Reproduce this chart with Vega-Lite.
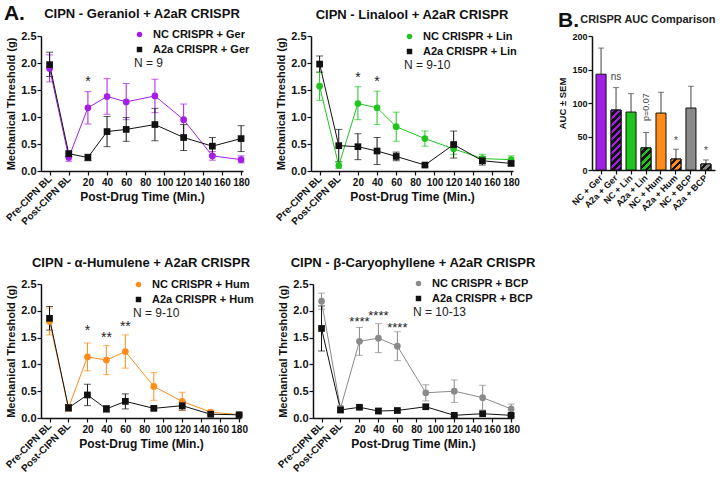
{
  "$schema": "https://vega.github.io/schema/vega-lite/v6.json",
  "padding": {"left": 3, "top": 3, "right": 2, "bottom": 2},
  "background": "white",
  "title": {"text": "A.", "anchor": "start", "fontSize": 21, "fontWeight": "bold", "dy": 16, "offset": 0, "color": "#111"},
  "config": {
    "font": "Liberation Sans",
    "view": {"stroke": null},
    "axis": {"labelFont": "Liberation Sans", "labelFontWeight": "bold", "labelFontSize": 10, "labelColor": "#111", "titleFont": "Liberation Sans", "titleFontSize": 12, "titleFontWeight": "bold", "titleColor": "#111", "domainColor": "#111", "domainWidth": 1.5, "tickColor": "#111", "tickWidth": 1.2, "tickSize": 4, "grid": false, "labelPadding": 2, "labelOverlap": false, "labelFlush": false},
    "axisY": {"labelPadding": 1, "titlePadding": 4, "labelFontSize": 11},
    "title": {"font": "Liberation Sans", "fontSize": 13, "fontWeight": "bold", "color": "#111", "offset": 8},
    "legend": {"labelFont": "Liberation Sans", "titleFont": "Liberation Sans"}
  },
  "spacing": 30,
  "resolve": {"scale": {"color": "independent", "shape": "independent"}, "legend": {"color": "independent", "shape": "independent"}},
  "vconcat": [
    {
      "spacing": 37,
      "resolve": {"scale": {"color": "independent", "shape": "independent"}, "legend": {"color": "independent", "shape": "independent"}},
      "hconcat": [
        {
          "spacing": 24,
          "resolve": {"scale": {"color": "independent", "shape": "independent"}, "legend": {"color": "independent", "shape": "independent"}},
          "hconcat": [
            {
              "width": 202, "height": 135,
              "title": "CIPN - Geraniol + A2aR CRISPR",
              "data": {"values": [
                {"t": -20, "g": "NC CRISPR + Ger", "m": 1.90, "lo": 1.65, "hi": 2.15},
                {"t": 0, "g": "NC CRISPR + Ger", "m": 0.25, "lo": 0.18, "hi": 0.33},
                {"t": 20, "g": "NC CRISPR + Ger", "m": 1.17, "lo": 0.87, "hi": 1.47},
                {"t": 40, "g": "NC CRISPR + Ger", "m": 1.38, "lo": 1.05, "hi": 1.71},
                {"t": 60, "g": "NC CRISPR + Ger", "m": 1.28, "lo": 0.95, "hi": 1.62},
                {"t": 90, "g": "NC CRISPR + Ger", "m": 1.39, "lo": 1.08, "hi": 1.70},
                {"t": 120, "g": "NC CRISPR + Ger", "m": 0.95, "lo": 0.66, "hi": 1.24},
                {"t": 150, "g": "NC CRISPR + Ger", "m": 0.28, "lo": 0.20, "hi": 0.36},
                {"t": 180, "g": "NC CRISPR + Ger", "m": 0.21, "lo": 0.15, "hi": 0.28},
                {"t": -20, "g": "A2a CRISPR + Ger", "m": 1.97, "lo": 1.75, "hi": 2.20},
                {"t": 0, "g": "A2a CRISPR + Ger", "m": 0.32, "lo": 0.27, "hi": 0.37},
                {"t": 20, "g": "A2a CRISPR + Ger", "m": 0.25, "lo": 0.19, "hi": 0.31},
                {"t": 40, "g": "A2a CRISPR + Ger", "m": 0.73, "lo": 0.45, "hi": 1.01},
                {"t": 60, "g": "A2a CRISPR + Ger", "m": 0.77, "lo": 0.55, "hi": 0.99},
                {"t": 90, "g": "A2a CRISPR + Ger", "m": 0.86, "lo": 0.56, "hi": 1.16},
                {"t": 120, "g": "A2a CRISPR + Ger", "m": 0.62, "lo": 0.38, "hi": 0.86},
                {"t": 150, "g": "A2a CRISPR + Ger", "m": 0.46, "lo": 0.30, "hi": 0.62},
                {"t": 180, "g": "A2a CRISPR + Ger", "m": 0.60, "lo": 0.36, "hi": 0.84}
              ]},
              "resolve": {"axis": {"x": "independent"}},
              "layer": [
                {"mark": {"type": "errorbar", "ticks": {"size": 7}, "thickness": 1},
                 "encoding": {
                   "x": {"field": "t", "type": "quantitative", "scale": {"domain": [-29, 182], "nice": false, "zero": false},
                         "axis": {"orient": "bottom", "values": [20, 40, 60, 80, 100, 120, 140, 160, 180], "labelAngle": 0, "title": "Post-Drug Time (Min.)"}},
                   "y": {"field": "lo", "type": "quantitative", "scale": {"domain": [0, 2.5], "nice": false}, "axis": {"values": [0, 0.5, 1, 1.5, 2, 2.5], "format": ".1f", "title": "Mechanical Threshold (g)", "titleFontSize": 11}},
                   "y2": {"field": "hi"},
                   "color": {"condition": {"test": "datum.g === 'NC CRISPR + Ger'", "value": "#a31ee6"}, "value": "#111111"}
                 }},
                {"mark": {"type": "line", "strokeWidth": 1},
                 "encoding": {
                   "x": {"field": "t", "type": "quantitative", "axis": {"orient": "bottom", "values": [-20, 0], "labelExpr": "datum.value < 0 ? 'Pre-CIPN BL' : 'Post-CIPN BL'", "labelAngle": -45, "labelAlign": "right", "labelBaseline": "middle", "labelFontSize": 10, "domain": false, "title": null}},
                   "y": {"field": "m", "type": "quantitative", "axis": {"values": [0, 0.5, 1, 1.5, 2, 2.5], "format": ".1f", "title": "Mechanical Threshold (g)", "titleFontSize": 11}},
                   "detail": {"field": "g"},
                   "color": {"condition": {"test": "datum.g === 'NC CRISPR + Ger'", "value": "#a31ee6"}, "value": "#111111"}
                 }},
                {"mark": {"type": "point", "filled": true, "opacity": 1, "size": 45},
                 "encoding": {
                   "x": {"field": "t", "type": "quantitative", "axis": null},
                   "y": {"field": "m", "type": "quantitative", "axis": {"values": [0, 0.5, 1, 1.5, 2, 2.5], "format": ".1f", "title": "Mechanical Threshold (g)", "titleFontSize": 11}},
                   "color": {"field": "g", "type": "nominal", "scale": {"domain": ["NC CRISPR + Ger", "A2a CRISPR + Ger"], "range": ["#a31ee6", "#111111"]}, "legend": {"title": "N = 9", "orient": "none", "legendX": 93, "legendY": -7, "titleOrient": "bottom", "titleAnchor": "start", "titleFontWeight": "normal", "titleFontSize": 12, "titleColor": "#222", "labelFontWeight": "bold", "labelFontSize": 11, "labelColor": "#111", "symbolSize": 30, "labelOffset": 8, "rowPadding": 3, "titlePadding": 3, "padding": 0}},
                   "shape": {"field": "g", "type": "nominal", "scale": {"domain": ["NC CRISPR + Ger", "A2a CRISPR + Ger"], "range": ["circle", "square"]}, "legend": {"title": "N = 9", "orient": "none", "legendX": 93, "legendY": -7, "titleOrient": "bottom", "titleAnchor": "start", "titleFontWeight": "normal", "titleFontSize": 12, "titleColor": "#222", "labelFontWeight": "bold", "labelFontSize": 11, "labelColor": "#111", "symbolSize": 30, "labelOffset": 8, "rowPadding": 3, "titlePadding": 3, "padding": 0}}
                 }},
                {"data": {"values": [{"t": 20, "y": 1.70, "s": "*"}]},
                 "mark": {"type": "text", "fontSize": 14, "baseline": "middle", "dy": 3, "color": "#222"},
                 "encoding": {"x": {"field": "t", "type": "quantitative", "axis": null}, "y": {"field": "y", "type": "quantitative", "axis": {"values": [0, 0.5, 1, 1.5, 2, 2.5], "format": ".1f", "title": "Mechanical Threshold (g)", "titleFontSize": 11}}, "text": {"field": "s"}}}
              ]
            },
            {
              "width": 202, "height": 135,
              "title": "CIPN - Linalool + A2aR CRISPR",
              "data": {"values": [
                {"t": -20, "g": "NC CRISPR + Lin", "m": 1.57, "lo": 1.31, "hi": 1.83},
                {"t": 0, "g": "NC CRISPR + Lin", "m": 0.10, "lo": 0.05, "hi": 0.17},
                {"t": 20, "g": "NC CRISPR + Lin", "m": 1.25, "lo": 0.95, "hi": 1.56},
                {"t": 40, "g": "NC CRISPR + Lin", "m": 1.17, "lo": 0.86, "hi": 1.48},
                {"t": 60, "g": "NC CRISPR + Lin", "m": 0.82, "lo": 0.55, "hi": 1.09},
                {"t": 90, "g": "NC CRISPR + Lin", "m": 0.60, "lo": 0.46, "hi": 0.74},
                {"t": 120, "g": "NC CRISPR + Lin", "m": 0.41, "lo": 0.31, "hi": 0.51},
                {"t": 150, "g": "NC CRISPR + Lin", "m": 0.23, "lo": 0.15, "hi": 0.31},
                {"t": 180, "g": "NC CRISPR + Lin", "m": 0.21, "lo": 0.14, "hi": 0.28},
                {"t": -20, "g": "A2a CRISPR + Lin", "m": 1.98, "lo": 1.83, "hi": 2.13},
                {"t": 0, "g": "A2a CRISPR + Lin", "m": 0.47, "lo": 0.17, "hi": 0.77},
                {"t": 20, "g": "A2a CRISPR + Lin", "m": 0.45, "lo": 0.21, "hi": 0.69},
                {"t": 40, "g": "A2a CRISPR + Lin", "m": 0.37, "lo": 0.12, "hi": 0.62},
                {"t": 60, "g": "A2a CRISPR + Lin", "m": 0.27, "lo": 0.19, "hi": 0.35},
                {"t": 90, "g": "A2a CRISPR + Lin", "m": 0.11, "lo": 0.08, "hi": 0.14},
                {"t": 120, "g": "A2a CRISPR + Lin", "m": 0.49, "lo": 0.24, "hi": 0.74},
                {"t": 150, "g": "A2a CRISPR + Lin", "m": 0.19, "lo": 0.11, "hi": 0.27},
                {"t": 180, "g": "A2a CRISPR + Lin", "m": 0.14, "lo": 0.10, "hi": 0.18}
              ]},
              "resolve": {"axis": {"x": "independent"}},
              "layer": [
                {"mark": {"type": "errorbar", "ticks": {"size": 7}, "thickness": 1},
                 "encoding": {
                   "x": {"field": "t", "type": "quantitative", "scale": {"domain": [-29, 182], "nice": false, "zero": false},
                         "axis": {"orient": "bottom", "values": [20, 40, 60, 80, 100, 120, 140, 160, 180], "labelAngle": 0, "title": "Post-Drug Time (Min.)"}},
                   "y": {"field": "lo", "type": "quantitative", "scale": {"domain": [0, 2.5], "nice": false}, "axis": {"values": [0, 0.5, 1, 1.5, 2, 2.5], "format": ".1f", "title": "Mechanical Threshold (g)", "titleFontSize": 11}},
                   "y2": {"field": "hi"},
                   "color": {"condition": {"test": "datum.g === 'NC CRISPR + Lin'", "value": "#1fc41f"}, "value": "#111111"}
                 }},
                {"mark": {"type": "line", "strokeWidth": 1},
                 "encoding": {
                   "x": {"field": "t", "type": "quantitative", "axis": {"orient": "bottom", "values": [-20, 0], "labelExpr": "datum.value < 0 ? 'Pre-CIPN BL' : 'Post-CIPN BL'", "labelAngle": -45, "labelAlign": "right", "labelBaseline": "middle", "labelFontSize": 10, "domain": false, "title": null}},
                   "y": {"field": "m", "type": "quantitative", "axis": {"values": [0, 0.5, 1, 1.5, 2, 2.5], "format": ".1f", "title": "Mechanical Threshold (g)", "titleFontSize": 11}},
                   "detail": {"field": "g"},
                   "color": {"condition": {"test": "datum.g === 'NC CRISPR + Lin'", "value": "#1fc41f"}, "value": "#111111"}
                 }},
                {"mark": {"type": "point", "filled": true, "opacity": 1, "size": 45},
                 "encoding": {
                   "x": {"field": "t", "type": "quantitative", "axis": null},
                   "y": {"field": "m", "type": "quantitative", "axis": {"values": [0, 0.5, 1, 1.5, 2, 2.5], "format": ".1f", "title": "Mechanical Threshold (g)", "titleFontSize": 11}},
                   "color": {"field": "g", "type": "nominal", "scale": {"domain": ["NC CRISPR + Lin", "A2a CRISPR + Lin"], "range": ["#1fc41f", "#111111"]}, "legend": {"title": "N = 9-10", "orient": "none", "legendX": 93, "legendY": -5, "titleOrient": "bottom", "titleAnchor": "start", "titleFontWeight": "normal", "titleFontSize": 12, "titleColor": "#222", "labelFontWeight": "bold", "labelFontSize": 11, "labelColor": "#111", "symbolSize": 30, "labelOffset": 8, "rowPadding": 3, "titlePadding": 3, "padding": 0}},
                   "shape": {"field": "g", "type": "nominal", "scale": {"domain": ["NC CRISPR + Lin", "A2a CRISPR + Lin"], "range": ["circle", "square"]}, "legend": {"title": "N = 9-10", "orient": "none", "legendX": 93, "legendY": -5, "titleOrient": "bottom", "titleAnchor": "start", "titleFontWeight": "normal", "titleFontSize": 12, "titleColor": "#222", "labelFontWeight": "bold", "labelFontSize": 11, "labelColor": "#111", "symbolSize": 30, "labelOffset": 8, "rowPadding": 3, "titlePadding": 3, "padding": 0}}
                 }},
                {"data": {"values": [{"t": 20, "y": 1.78, "s": "*"}, {"t": 40, "y": 1.70, "s": "*"}]},
                 "mark": {"type": "text", "fontSize": 14, "baseline": "middle", "dy": 3, "color": "#222"},
                 "encoding": {"x": {"field": "t", "type": "quantitative", "axis": null}, "y": {"field": "y", "type": "quantitative", "axis": {"values": [0, 0.5, 1, 1.5, 2, 2.5], "format": ".1f", "title": "Mechanical Threshold (g)", "titleFontSize": 11}}, "text": {"field": "s"}}}
              ]
            }
          ]
        },
        {
          "width": 123, "height": 134,
          "title": {"text": "B.", "anchor": "start", "frame": "bounds", "fontSize": 21, "dy": 18, "offset": 0},
          "data": {"values": [
            {"k": "NC + Ger", "grp": "Ger", "v": 143, "e": 182},
            {"k": "A2a + Ger", "grp": "Ger", "v": 89.5, "e": 123},
            {"k": "NC + Lin", "grp": "Lin", "v": 86.5, "e": 114},
            {"k": "A2a + Lin", "grp": "Lin", "v": 33, "e": 56},
            {"k": "NC + Hum", "grp": "Hum", "v": 85, "e": 116},
            {"k": "A2a + Hum", "grp": "Hum", "v": 16.4, "e": 31},
            {"k": "NC + BCP", "grp": "BCP", "v": 92.5, "e": 125},
            {"k": "A2a + BCP", "grp": "BCP", "v": 9, "e": 15}
          ]},
          "resolve": {"axis": {"x": "independent"}},
          "layer": [
            {"mark": {"type": "rule", "color": "#444", "strokeWidth": 1},
             "encoding": {
               "x": {"field": "k", "type": "nominal", "axis": null},
               "y": {"field": "v", "type": "quantitative", "axis": {"values": [0, 50, 100, 150, 200], "labelFontSize": 9, "title": "AUC ± SEM", "titleFontSize": 9.5, "tickSize": 4}},
               "y2": {"field": "e"}
             }},
            {"mark": {"type": "tick", "color": "#444", "thickness": 1, "size": 6},
             "encoding": {
               "x": {"field": "k", "type": "nominal", "axis": null},
               "y": {"field": "e", "type": "quantitative", "axis": {"values": [0, 50, 100, 150, 200], "labelFontSize": 9, "title": "AUC ± SEM", "titleFontSize": 9.5, "tickSize": 4}}
             }},
            {"mark": {"type": "bar", "stroke": "#111", "strokeWidth": 1},
             "encoding": {
               "x": {"field": "k", "type": "nominal", "scale": {"domain": ["NC + Ger", "A2a + Ger", "NC + Lin", "A2a + Lin", "NC + Hum", "A2a + Hum", "NC + BCP", "A2a + BCP"], "paddingInner": 0.33, "paddingOuter": 0.27},
                     "axis": {"orient": "bottom", "labelAngle": -45, "labelAlign": "right", "labelBaseline": "middle", "labelFontSize": 9, "title": null, "tickSize": 4}},
               "y": {"field": "v", "type": "quantitative", "scale": {"domain": [0, 200], "nice": false}, "axis": {"values": [0, 50, 100, 150, 200], "labelFontSize": 9, "title": "AUC ± SEM", "titleFontSize": 9.5, "tickSize": 4}},
               "color": {"field": "grp", "type": "nominal", "scale": {"domain": ["Ger", "Lin", "Hum", "BCP"], "range": ["#a31ee6", "#1fc41f", "#ff8c19", "#8a8a8a"]}, "legend": null}
             }},
            {"transform": [{"filter": "datum.k === 'A2a + Ger'"}],
             "mark": {"type": "bar", "stroke": "#111", "strokeWidth": 1, "fill": {"gradient": "linear", "x1": 0, "y1": 0, "x2": 0.189, "y2": 1.135, "stops": [
               {"offset": 0, "color": "#a31ee6"}, {"offset": 0.055, "color": "#a31ee6"}, {"offset": 0.055, "color": "#111"}, {"offset": 0.1, "color": "#111"},
               {"offset": 0.1, "color": "#a31ee6"}, {"offset": 0.155, "color": "#a31ee6"}, {"offset": 0.155, "color": "#111"}, {"offset": 0.2, "color": "#111"},
               {"offset": 0.2, "color": "#a31ee6"}, {"offset": 0.255, "color": "#a31ee6"}, {"offset": 0.255, "color": "#111"}, {"offset": 0.3, "color": "#111"},
               {"offset": 0.3, "color": "#a31ee6"}, {"offset": 0.355, "color": "#a31ee6"}, {"offset": 0.355, "color": "#111"}, {"offset": 0.4, "color": "#111"},
               {"offset": 0.4, "color": "#a31ee6"}, {"offset": 0.455, "color": "#a31ee6"}, {"offset": 0.455, "color": "#111"}, {"offset": 0.5, "color": "#111"},
               {"offset": 0.5, "color": "#a31ee6"}, {"offset": 0.555, "color": "#a31ee6"}, {"offset": 0.555, "color": "#111"}, {"offset": 0.6, "color": "#111"},
               {"offset": 0.6, "color": "#a31ee6"}, {"offset": 0.655, "color": "#a31ee6"}, {"offset": 0.655, "color": "#111"}, {"offset": 0.7, "color": "#111"},
               {"offset": 0.7, "color": "#a31ee6"}, {"offset": 0.755, "color": "#a31ee6"}, {"offset": 0.755, "color": "#111"}, {"offset": 0.8, "color": "#111"},
               {"offset": 0.8, "color": "#a31ee6"}, {"offset": 0.855, "color": "#a31ee6"}, {"offset": 0.855, "color": "#111"}, {"offset": 0.9, "color": "#111"},
               {"offset": 0.9, "color": "#a31ee6"}, {"offset": 0.955, "color": "#a31ee6"}, {"offset": 0.955, "color": "#111"}, {"offset": 1, "color": "#111"}
             ]}},
             "encoding": {"x": {"field": "k", "type": "nominal", "axis": null}, "y": {"field": "v", "type": "quantitative", "axis": {"values": [0, 50, 100, 150, 200], "labelFontSize": 9, "title": "AUC ± SEM", "titleFontSize": 9.5, "tickSize": 4}}}},
            {"transform": [{"filter": "datum.k === 'A2a + Lin'"}],
             "mark": {"type": "bar", "stroke": "#111", "strokeWidth": 1, "fill": {"gradient": "linear", "x1": 0, "y1": 0, "x2": 0.546, "y2": 1.206, "stops": [
               {"offset": 0, "color": "#1fc41f"}, {"offset": 0.122, "color": "#1fc41f"}, {"offset": 0.122, "color": "#111"}, {"offset": 0.222, "color": "#111"},
               {"offset": 0.222, "color": "#1fc41f"}, {"offset": 0.344, "color": "#1fc41f"}, {"offset": 0.344, "color": "#111"}, {"offset": 0.444, "color": "#111"},
               {"offset": 0.444, "color": "#1fc41f"}, {"offset": 0.567, "color": "#1fc41f"}, {"offset": 0.567, "color": "#111"}, {"offset": 0.667, "color": "#111"},
               {"offset": 0.667, "color": "#1fc41f"}, {"offset": 0.789, "color": "#1fc41f"}, {"offset": 0.789, "color": "#111"}, {"offset": 0.889, "color": "#111"},
               {"offset": 0.889, "color": "#1fc41f"}, {"offset": 1, "color": "#1fc41f"}
             ]}},
             "encoding": {"x": {"field": "k", "type": "nominal", "axis": null}, "y": {"field": "v", "type": "quantitative", "axis": {"values": [0, 50, 100, 150, 200], "labelFontSize": 9, "title": "AUC ± SEM", "titleFontSize": 9.5, "tickSize": 4}}}},
            {"transform": [{"filter": "datum.k === 'A2a + Hum'"}],
             "mark": {"type": "bar", "stroke": "#111", "strokeWidth": 1, "fill": {"gradient": "linear", "x1": 0, "y1": 0, "x2": 0.95, "y2": 1.045, "stops": [
               {"offset": 0, "color": "#ff8c19"}, {"offset": 0.183, "color": "#ff8c19"}, {"offset": 0.183, "color": "#111"}, {"offset": 0.333, "color": "#111"},
               {"offset": 0.333, "color": "#ff8c19"}, {"offset": 0.517, "color": "#ff8c19"}, {"offset": 0.517, "color": "#111"}, {"offset": 0.667, "color": "#111"},
               {"offset": 0.667, "color": "#ff8c19"}, {"offset": 0.85, "color": "#ff8c19"}, {"offset": 0.85, "color": "#111"}, {"offset": 1, "color": "#111"}
             ]}},
             "encoding": {"x": {"field": "k", "type": "nominal", "axis": null}, "y": {"field": "v", "type": "quantitative", "axis": {"values": [0, 50, 100, 150, 200], "labelFontSize": 9, "title": "AUC ± SEM", "titleFontSize": 9.5, "tickSize": 4}}}},
            {"transform": [{"filter": "datum.k === 'A2a + BCP'"}],
             "mark": {"type": "bar", "stroke": "#111", "strokeWidth": 1, "fill": {"gradient": "linear", "x1": 0, "y1": 0, "x2": 1.176, "y2": 0.706, "stops": [
               {"offset": 0, "color": "#8a8a8a"}, {"offset": 0.24, "color": "#8a8a8a"}, {"offset": 0.24, "color": "#111"}, {"offset": 0.435, "color": "#111"},
               {"offset": 0.435, "color": "#8a8a8a"}, {"offset": 0.675, "color": "#8a8a8a"}, {"offset": 0.675, "color": "#111"}, {"offset": 0.87, "color": "#111"},
               {"offset": 0.87, "color": "#8a8a8a"}, {"offset": 1, "color": "#8a8a8a"}
             ]}},
             "encoding": {"x": {"field": "k", "type": "nominal", "axis": null}, "y": {"field": "v", "type": "quantitative", "axis": {"values": [0, 50, 100, 150, 200], "labelFontSize": 9, "title": "AUC ± SEM", "titleFontSize": 9.5, "tickSize": 4}}}},
            {"data": {"values": [{"k": "A2a + Ger", "y": 139, "s": "ns"}, {"k": "A2a + Hum", "y": 43, "s": "*"}, {"k": "A2a + BCP", "y": 29, "s": "*"}]},
             "mark": {"type": "text", "fontSize": 10, "baseline": "middle", "color": "#444"},
             "encoding": {
               "x": {"field": "k", "type": "nominal", "axis": {"orient": "top", "labels": false, "ticks": false, "domain": false, "title": "CRISPR AUC Comparison", "titleFontSize": 11, "titleAnchor": "end", "titleColor": "#222", "titlePadding": 12}},
               "y": {"field": "y", "type": "quantitative", "axis": {"values": [0, 50, 100, 150, 200], "labelFontSize": 9, "title": "AUC ± SEM", "titleFontSize": 9.5, "tickSize": 4}},
               "text": {"field": "s"}
             }},
            {"data": {"values": [{"k": "A2a + Lin", "y": 94, "s": "p=0.07"}]},
             "mark": {"type": "text", "fontSize": 9, "angle": 270, "baseline": "middle", "align": "center", "color": "#444"},
             "encoding": {
               "x": {"field": "k", "type": "nominal", "axis": null},
               "y": {"field": "y", "type": "quantitative", "axis": {"values": [0, 50, 100, 150, 200], "labelFontSize": 9, "title": "AUC ± SEM", "titleFontSize": 9.5, "tickSize": 4}},
               "text": {"field": "s"}
             }}
          ]
        }
      ]
    },
    {
      "spacing": 21,
      "resolve": {"scale": {"color": "independent", "shape": "independent"}, "legend": {"color": "independent", "shape": "independent"}},
      "hconcat": [
        {
          "width": 200, "height": 134,
          "title": "CIPN - α-Humulene + A2aR CRISPR",
          "data": {"values": [
            {"t": -20, "g": "NC CRISPR + Hum", "m": 1.80, "lo": 1.55, "hi": 2.05},
            {"t": 0, "g": "NC CRISPR + Hum", "m": 0.19, "lo": 0.13, "hi": 0.25},
            {"t": 20, "g": "NC CRISPR + Hum", "m": 1.14, "lo": 0.88, "hi": 1.40},
            {"t": 40, "g": "NC CRISPR + Hum", "m": 1.08, "lo": 0.81, "hi": 1.35},
            {"t": 60, "g": "NC CRISPR + Hum", "m": 1.24, "lo": 0.93, "hi": 1.55},
            {"t": 90, "g": "NC CRISPR + Hum", "m": 0.59, "lo": 0.33, "hi": 0.85},
            {"t": 120, "g": "NC CRISPR + Hum", "m": 0.31, "lo": 0.14, "hi": 0.48},
            {"t": 150, "g": "NC CRISPR + Hum", "m": 0.11, "lo": 0.08, "hi": 0.14},
            {"t": 180, "g": "NC CRISPR + Hum", "m": 0.06, "lo": 0.04, "hi": 0.08},
            {"t": -20, "g": "A2a CRISPR + Hum", "m": 1.86, "lo": 1.64, "hi": 2.08},
            {"t": 0, "g": "A2a CRISPR + Hum", "m": 0.19, "lo": 0.13, "hi": 0.25},
            {"t": 20, "g": "A2a CRISPR + Hum", "m": 0.43, "lo": 0.23, "hi": 0.63},
            {"t": 40, "g": "A2a CRISPR + Hum", "m": 0.17, "lo": 0.11, "hi": 0.23},
            {"t": 60, "g": "A2a CRISPR + Hum", "m": 0.31, "lo": 0.17, "hi": 0.45},
            {"t": 90, "g": "A2a CRISPR + Hum", "m": 0.18, "lo": 0.15, "hi": 0.21},
            {"t": 120, "g": "A2a CRISPR + Hum", "m": 0.23, "lo": 0.15, "hi": 0.31},
            {"t": 150, "g": "A2a CRISPR + Hum", "m": 0.07, "lo": 0.05, "hi": 0.09},
            {"t": 180, "g": "A2a CRISPR + Hum", "m": 0.06, "lo": 0.04, "hi": 0.08}
          ]},
          "resolve": {"axis": {"x": "independent"}},
          "layer": [
            {"mark": {"type": "errorbar", "ticks": {"size": 7}, "thickness": 1},
             "encoding": {
               "x": {"field": "t", "type": "quantitative", "scale": {"domain": [-29, 182], "nice": false, "zero": false},
                     "axis": {"orient": "bottom", "values": [20, 40, 60, 80, 100, 120, 140, 160, 180], "labelAngle": 0, "title": "Post-Drug Time (Min.)"}},
               "y": {"field": "lo", "type": "quantitative", "scale": {"domain": [0, 2.5], "nice": false}, "axis": {"values": [0, 0.5, 1, 1.5, 2, 2.5], "format": ".1f", "title": "Mechanical Threshold (g)", "titleFontSize": 11}},
               "y2": {"field": "hi"},
               "color": {"condition": {"test": "datum.g === 'NC CRISPR + Hum'", "value": "#ff8c19"}, "value": "#111111"}
             }},
            {"mark": {"type": "line", "strokeWidth": 1},
             "encoding": {
               "x": {"field": "t", "type": "quantitative", "axis": {"orient": "bottom", "values": [-20, 0], "labelExpr": "datum.value < 0 ? 'Pre-CIPN BL' : 'Post-CIPN BL'", "labelAngle": -45, "labelAlign": "right", "labelBaseline": "middle", "labelFontSize": 10, "domain": false, "title": null}},
               "y": {"field": "m", "type": "quantitative", "axis": {"values": [0, 0.5, 1, 1.5, 2, 2.5], "format": ".1f", "title": "Mechanical Threshold (g)", "titleFontSize": 11}},
               "detail": {"field": "g"},
               "color": {"condition": {"test": "datum.g === 'NC CRISPR + Hum'", "value": "#ff8c19"}, "value": "#111111"}
             }},
            {"mark": {"type": "point", "filled": true, "opacity": 1, "size": 45},
             "encoding": {
               "x": {"field": "t", "type": "quantitative", "axis": null},
               "y": {"field": "m", "type": "quantitative", "axis": {"values": [0, 0.5, 1, 1.5, 2, 2.5], "format": ".1f", "title": "Mechanical Threshold (g)", "titleFontSize": 11}},
               "color": {"field": "g", "type": "nominal", "scale": {"domain": ["NC CRISPR + Hum", "A2a CRISPR + Hum"], "range": ["#ff8c19", "#111111"]}, "legend": {"title": "N = 9-10", "orient": "none", "legendX": 92, "legendY": -5, "titleOrient": "bottom", "titleAnchor": "start", "titleFontWeight": "normal", "titleFontSize": 12, "titleColor": "#222", "labelFontWeight": "bold", "labelFontSize": 11, "labelColor": "#111", "symbolSize": 30, "labelOffset": 8, "rowPadding": 3, "titlePadding": 3, "padding": 0}},
               "shape": {"field": "g", "type": "nominal", "scale": {"domain": ["NC CRISPR + Hum", "A2a CRISPR + Hum"], "range": ["circle", "square"]}, "legend": {"title": "N = 9-10", "orient": "none", "legendX": 92, "legendY": -5, "titleOrient": "bottom", "titleAnchor": "start", "titleFontWeight": "normal", "titleFontSize": 12, "titleColor": "#222", "labelFontWeight": "bold", "labelFontSize": 11, "labelColor": "#111", "symbolSize": 30, "labelOffset": 8, "rowPadding": 3, "titlePadding": 3, "padding": 0}}
             }},
            {"data": {"values": [{"t": 20, "y": 1.67, "s": "*"}, {"t": 40, "y": 1.55, "s": "**"}, {"t": 60, "y": 1.75, "s": "**"}]},
             "mark": {"type": "text", "fontSize": 14, "baseline": "middle", "dy": 3, "color": "#222"},
             "encoding": {"x": {"field": "t", "type": "quantitative", "axis": null}, "y": {"field": "y", "type": "quantitative", "axis": {"values": [0, 0.5, 1, 1.5, 2, 2.5], "format": ".1f", "title": "Mechanical Threshold (g)", "titleFontSize": 11}}, "text": {"field": "s"}}}
          ]
        },
        {
          "width": 200, "height": 134,
          "title": "CIPN - β-Caryophyllene + A2aR CRISPR",
          "data": {"values": [
            {"t": -20, "g": "NC CRISPR + BCP", "m": 2.18, "lo": 2.03, "hi": 2.33},
            {"t": 0, "g": "NC CRISPR + BCP", "m": 0.18, "lo": 0.13, "hi": 0.23},
            {"t": 20, "g": "NC CRISPR + BCP", "m": 1.43, "lo": 1.17, "hi": 1.69},
            {"t": 40, "g": "NC CRISPR + BCP", "m": 1.49, "lo": 1.22, "hi": 1.76},
            {"t": 60, "g": "NC CRISPR + BCP", "m": 1.34, "lo": 1.07, "hi": 1.61},
            {"t": 90, "g": "NC CRISPR + BCP", "m": 0.47, "lo": 0.32, "hi": 0.62},
            {"t": 120, "g": "NC CRISPR + BCP", "m": 0.50, "lo": 0.29, "hi": 0.71},
            {"t": 150, "g": "NC CRISPR + BCP", "m": 0.38, "lo": 0.15, "hi": 0.61},
            {"t": 180, "g": "NC CRISPR + BCP", "m": 0.17, "lo": 0.08, "hi": 0.26},
            {"t": -20, "g": "A2a CRISPR + BCP", "m": 1.67, "lo": 1.25, "hi": 2.09},
            {"t": 0, "g": "A2a CRISPR + BCP", "m": 0.15, "lo": 0.10, "hi": 0.20},
            {"t": 20, "g": "A2a CRISPR + BCP", "m": 0.20, "lo": 0.17, "hi": 0.23},
            {"t": 40, "g": "A2a CRISPR + BCP", "m": 0.13, "lo": 0.08, "hi": 0.18},
            {"t": 60, "g": "A2a CRISPR + BCP", "m": 0.14, "lo": 0.11, "hi": 0.17},
            {"t": 90, "g": "A2a CRISPR + BCP", "m": 0.21, "lo": 0.17, "hi": 0.25},
            {"t": 120, "g": "A2a CRISPR + BCP", "m": 0.05, "lo": 0.03, "hi": 0.07},
            {"t": 150, "g": "A2a CRISPR + BCP", "m": 0.08, "lo": 0.06, "hi": 0.10},
            {"t": 180, "g": "A2a CRISPR + BCP", "m": 0.05, "lo": 0.03, "hi": 0.07}
          ]},
          "resolve": {"axis": {"x": "independent"}},
          "layer": [
            {"mark": {"type": "errorbar", "ticks": {"size": 7}, "thickness": 1},
             "encoding": {
               "x": {"field": "t", "type": "quantitative", "scale": {"domain": [-29, 182], "nice": false, "zero": false},
                     "axis": {"orient": "bottom", "values": [20, 40, 60, 80, 100, 120, 140, 160, 180], "labelAngle": 0, "title": "Post-Drug Time (Min.)"}},
               "y": {"field": "lo", "type": "quantitative", "scale": {"domain": [0, 2.5], "nice": false}, "axis": {"values": [0, 0.5, 1, 1.5, 2, 2.5], "format": ".1f", "title": "Mechanical Threshold (g)", "titleFontSize": 11}},
               "y2": {"field": "hi"},
               "color": {"condition": {"test": "datum.g === 'NC CRISPR + BCP'", "value": "#8a8a8a"}, "value": "#111111"}
             }},
            {"mark": {"type": "line", "strokeWidth": 1},
             "encoding": {
               "x": {"field": "t", "type": "quantitative", "axis": {"orient": "bottom", "values": [-20, 0], "labelExpr": "datum.value < 0 ? 'Pre-CIPN BL' : 'Post-CIPN BL'", "labelAngle": -45, "labelAlign": "right", "labelBaseline": "middle", "labelFontSize": 10, "domain": false, "title": null}},
               "y": {"field": "m", "type": "quantitative", "axis": {"values": [0, 0.5, 1, 1.5, 2, 2.5], "format": ".1f", "title": "Mechanical Threshold (g)", "titleFontSize": 11}},
               "detail": {"field": "g"},
               "color": {"condition": {"test": "datum.g === 'NC CRISPR + BCP'", "value": "#8a8a8a"}, "value": "#111111"}
             }},
            {"mark": {"type": "point", "filled": true, "opacity": 1, "size": 45},
             "encoding": {
               "x": {"field": "t", "type": "quantitative", "axis": null},
               "y": {"field": "m", "type": "quantitative", "axis": {"values": [0, 0.5, 1, 1.5, 2, 2.5], "format": ".1f", "title": "Mechanical Threshold (g)", "titleFontSize": 11}},
               "color": {"field": "g", "type": "nominal", "scale": {"domain": ["NC CRISPR + BCP", "A2a CRISPR + BCP"], "range": ["#8a8a8a", "#111111"]}, "legend": {"title": "N = 10-13", "orient": "none", "legendX": 100, "legendY": -6, "titleOrient": "bottom", "titleAnchor": "start", "titleFontWeight": "normal", "titleFontSize": 12, "titleColor": "#222", "labelFontWeight": "bold", "labelFontSize": 11, "labelColor": "#111", "symbolSize": 30, "labelOffset": 8, "rowPadding": 3, "titlePadding": 3, "padding": 0}},
               "shape": {"field": "g", "type": "nominal", "scale": {"domain": ["NC CRISPR + BCP", "A2a CRISPR + BCP"], "range": ["circle", "square"]}, "legend": {"title": "N = 10-13", "orient": "none", "legendX": 100, "legendY": -6, "titleOrient": "bottom", "titleAnchor": "start", "titleFontWeight": "normal", "titleFontSize": 12, "titleColor": "#222", "labelFontWeight": "bold", "labelFontSize": 11, "labelColor": "#111", "symbolSize": 30, "labelOffset": 8, "rowPadding": 3, "titlePadding": 3, "padding": 0}}
             }},
            {"data": {"values": [{"t": 20, "y": 1.84, "s": "****"}, {"t": 40, "y": 1.96, "s": "****"}, {"t": 60, "y": 1.73, "s": "****"}]},
             "mark": {"type": "text", "fontSize": 13, "baseline": "middle", "dy": 3, "color": "#222"},
             "encoding": {"x": {"field": "t", "type": "quantitative", "axis": null}, "y": {"field": "y", "type": "quantitative", "axis": {"values": [0, 0.5, 1, 1.5, 2, 2.5], "format": ".1f", "title": "Mechanical Threshold (g)", "titleFontSize": 11}}, "text": {"field": "s"}}}
          ]
        }
      ]
    }
  ]
}
